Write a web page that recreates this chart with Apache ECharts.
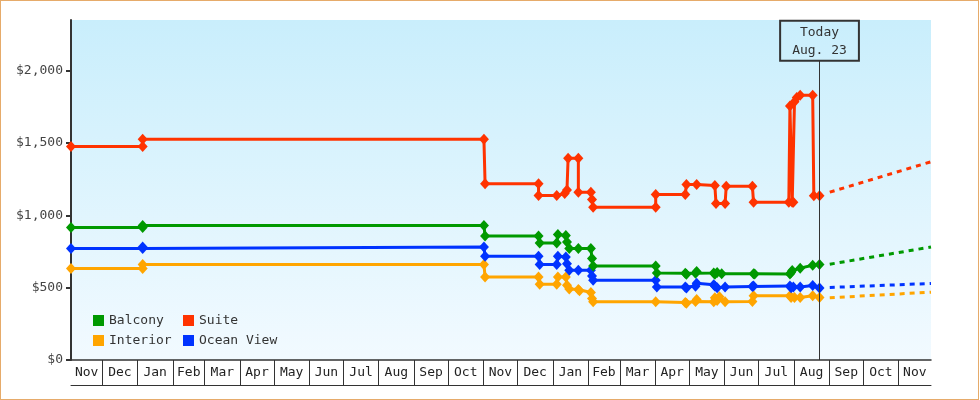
<!DOCTYPE html>
<html><head><meta charset="utf-8">
<script src="https://cdn.jsdelivr.net/npm/echarts@6/dist/echarts.min.js"></script>
<style>
html,body{margin:0;padding:0;background:#fff;}
#frame{position:absolute;left:0;top:0;width:979px;height:400px;box-sizing:border-box;border:1px solid #e6ab6a;background:#fff;}
#chart{width:977px;height:398px;}
</style></head><body>
<div id="frame"><div id="chart"></div></div>
<script>
// ---------- data ----------
const SERIES_NAMES = ['Balcony', 'Suite', 'Interior', 'Ocean View'];

const SUITE = [
  ['2016-11-03',1475],['2017-01-05',1475],['2017-01-05',1525],['2017-11-01',1525],['2017-11-02',1218],
  ['2017-12-19',1218],['2017-12-19',1137],['2018-01-04',1137],['2018-01-11',1150],['2018-01-13',1175],
  ['2018-01-14',1395],['2018-01-23',1395],['2018-01-23',1160],['2018-02-03',1160],['2018-02-04',1110],
  ['2018-02-05',1055],['2018-04-01',1055],['2018-04-01',1144],['2018-04-27',1144],['2018-04-28',1213],
  ['2018-05-07',1213],['2018-05-23',1206],['2018-05-24',1082],['2018-06-01',1082],['2018-06-02',1201],
  ['2018-06-25',1201],['2018-06-26',1090],['2018-07-27',1090],['2018-07-28',1755],['2018-07-30',1090],
  ['2018-07-31',1090],['2018-08-01',1785],['2018-08-03',1815],['2018-08-06',1830],['2018-08-17',1830],
  ['2018-08-18',1135],['2018-08-23',1135]
];
const BALCONY = [
  ['2016-11-03',915],['2017-01-05',915],['2017-01-05',930],['2017-11-01',930],['2017-11-02',857],
  ['2017-12-19',857],['2017-12-20',809],['2018-01-04',809],['2018-01-05',868],['2018-01-12',861],
  ['2018-01-13',815],['2018-01-15',770],['2018-01-23',770],['2018-02-03',770],['2018-02-04',701],
  ['2018-02-05',650],['2018-04-01',650],['2018-04-02',602],['2018-04-27',600],['2018-04-28',592],
  ['2018-05-06',600],['2018-05-07',612],['2018-05-22',602],['2018-05-23',592],['2018-05-25',604],
  ['2018-05-29',597],['2018-06-26',597],['2018-06-27',595],['2018-07-28',595],['2018-07-29',605],
  ['2018-07-30',618],['2018-08-06',635],['2018-08-17',655],['2018-08-23',660]
];
const INTERIOR = [
  ['2016-11-03',632],['2017-01-05',632],['2017-01-05',660],['2017-11-01',660],['2017-11-02',574],
  ['2017-12-19',574],['2017-12-20',524],['2018-01-04',524],['2018-01-05',574],['2018-01-12',574],
  ['2018-01-13',517],['2018-01-15',490],['2018-01-23',487],['2018-01-24',478],['2018-02-03',467],
  ['2018-02-04',425],['2018-02-05',402],['2018-04-01',402],['2018-04-27',397],['2018-04-28',393],
  ['2018-05-06',405],['2018-05-07',418],['2018-05-22',402],['2018-05-23',430],['2018-05-25',412],
  ['2018-05-27',438],['2018-06-01',402],['2018-06-25',405],['2018-06-26',444],['2018-07-28',444],
  ['2018-07-29',432],['2018-08-01',432],['2018-08-06',432],['2018-08-17',444],['2018-08-23',432]
];
const OCEAN_VIEW = [
  ['2016-11-03',770],['2017-01-05',770],['2017-01-05',781],['2017-11-01',781],['2017-11-02',717],
  ['2017-12-19',717],['2017-12-20',660],['2018-01-04',660],['2018-01-05',717],['2018-01-12',712],
  ['2018-01-13',666],['2018-01-15',620],['2018-01-23',620],['2018-02-03',620],['2018-02-04',581],
  ['2018-02-05',551],['2018-04-01',551],['2018-04-02',505],['2018-04-27',505],['2018-04-28',497],
  ['2018-05-06',510],['2018-05-07',530],['2018-05-22',520],['2018-05-23',512],['2018-05-25',500],
  ['2018-06-01',505],['2018-06-25',508],['2018-06-26',512],['2018-07-28',512],['2018-07-29',500],
  ['2018-07-31',505],['2018-08-06',505],['2018-08-17',515],['2018-08-23',498]
];
// projections (dashed)
const SUITE_FORECAST = [['2018-09-01',1160],['2018-11-29',1370]];
const BALCONY_FORECAST = [['2018-09-01',662],['2018-11-29',781]];
const INTERIOR_FORECAST = [['2018-09-01',430],['2018-11-29',469]];
const OCEAN_VIEW_FORECAST = [['2018-09-01',501],['2018-11-29',529]];

const TODAY = '2018-08-23';
const TODAY_LABEL = 'Today\nAug. 23';
const X_START = '2016-11-03';
const X_END = '2018-11-29';
const Y_TICKS = [0, 500, 1000, 1500, 2000];
const Y_MAX = 2350;
const MONTH_BOUNDARIES = [
  '2016-12-01','2017-01-01','2017-02-01','2017-03-01','2017-04-01','2017-05-01','2017-06-01',
  '2017-07-01','2017-08-01','2017-09-01','2017-10-01','2017-11-01','2017-12-01','2018-01-01',
  '2018-02-01','2018-03-01','2018-04-01','2018-05-01','2018-06-01','2018-07-01','2018-08-01',
  '2018-09-01','2018-10-01','2018-11-01'
];
const MONTH_LABELS = ['Nov','Dec','Jan','Feb','Mar','Apr','May','Jun','Jul','Aug','Sep','Oct',
  'Nov','Dec','Jan','Feb','Mar','Apr','May','Jun','Jul','Aug','Sep','Oct','Nov'];

// ---------- chart ----------
const FONT = 'DejaVu Sans Mono';
function t(s, h) { const p = s.split('-').map(Number); return new Date(p[0], p[1]-1, p[2], h == null ? 12 : h).getTime(); }
const xMin = t(X_START, 12), xMax = t(X_END, 12);
const bounds = [xMin].concat(MONTH_BOUNDARIES.map(s => t(s, 0))).concat([xMax]);
const mids = [];
for (let i = 0; i < bounds.length - 1; i++) mids.push((bounds[i] + bounds[i+1]) / 2);
const todayX = t(TODAY, 12);

const COLORS = { 'Balcony':'#009900', 'Suite':'#ff3300', 'Interior':'#ffa500', 'Ocean View':'#0033ff' };

function solid(name, data) {
  const c = COLORS[name];
  return { name, type:'line', data: data.map(d => [t(d[0]), d[1]]), color:c,
    lineStyle:{width:3, color:c}, itemStyle:{color:c}, symbol:'diamond', symbolSize:[10,11],
    showAllSymbol:true, clip:false, animation:false, emphasis:{disabled:true}, z:3 };
}
function dashed(name, data) {
  const c = COLORS[name];
  return { name, type:'line', data: data.map(d => [t(d[0]), d[1]]), color:c,
    lineStyle:{width:3, color:c, type:[5,5]}, itemStyle:{color:c}, symbol:'none',
    animation:false, emphasis:{disabled:true}, z:2 };
}

const suite = solid('Suite', SUITE);
suite.markLine = {
  silent:true, symbol:['none','none'], animation:false,
  lineStyle:{color:'#333', width:1, type:'solid'},
  label:{show:true, position:'end', distance:0, formatter:TODAY_LABEL, color:'#333',
    fontFamily:FONT, fontSize:13, lineHeight:18, padding:[3,12,1,12],
    borderColor:'#333', borderWidth:1, backgroundColor:'rgba(0,0,0,0)'},
  data:[[{coord:[todayX, 0]}, {coord:[todayX, 2068]}]]
};

const legendBase = { orient:'vertical', itemWidth:11, itemHeight:11, itemGap:6, icon:'rect', padding:0,
  textStyle:{fontFamily:FONT, fontSize:13, color:'#333', lineHeight:14}, selectedMode:false };

const option = {
  animation:false,
  grid:{left:70, right:47, top:19, bottom:39, show:true, borderWidth:0,
    backgroundColor: new echarts.graphic.LinearGradient(0,0,0,1,[{offset:0,color:'#c9eefc'},{offset:1,color:'#f2faff'}])},
  legend:[
    Object.assign({}, legendBase, {data:[SERIES_NAMES[0], SERIES_NAMES[2]], left:92, top:312.5}),
    Object.assign({}, legendBase, {data:[SERIES_NAMES[1], SERIES_NAMES[3]], left:182, top:312.5})
  ],
  xAxis:[
    { type:'value', min:xMin, max:xMax, position:'bottom', scale:true,
      axisLine:{show:true, onZero:false, lineStyle:{color:'#333', width:1.5}},
      axisTick:{show:true, inside:false, length:25, customValues: bounds.slice(1, -1), lineStyle:{color:'#333', width:1}},
      axisLabel:{show:true, customValues: mids, margin:6, color:'#222', fontFamily:FONT, fontSize:13,
        formatter: v => { let bi = 0, bd = Infinity; mids.forEach((m,i) => { const d = Math.abs(m - v); if (d < bd) { bd = d; bi = i; } }); return MONTH_LABELS[bi]; }},
      splitLine:{show:false} },
    { type:'value', min:xMin, max:xMax, position:'bottom', offset:25, scale:true,
      axisLine:{show:true, onZero:false, lineStyle:{color:'#333', width:1}},
      axisTick:{show:false}, axisLabel:{show:false}, splitLine:{show:false} }
  ],
  yAxis:{ type:'value', min:0, max:Y_MAX,
    axisLine:{show:true, onZero:false, lineStyle:{color:'#333', width:2}},
    axisTick:{show:true, length:5, customValues:Y_TICKS, lineStyle:{color:'#333', width:2}},
    axisLabel:{customValues:Y_TICKS, margin:8, color:'#444', fontFamily:FONT, fontSize:13,
      formatter: v => '$' + Number(v).toLocaleString('en-US')},
    splitLine:{show:false} },
  series:[
    dashed('Suite', SUITE_FORECAST), dashed('Balcony', BALCONY_FORECAST),
    dashed('Ocean View', OCEAN_VIEW_FORECAST), dashed('Interior', INTERIOR_FORECAST),
    solid('Interior', INTERIOR), solid('Ocean View', OCEAN_VIEW), solid('Balcony', BALCONY), suite
  ]
};
const chart = echarts.init(document.getElementById('chart'));
chart.setOption(option);
</script>
</body></html>
